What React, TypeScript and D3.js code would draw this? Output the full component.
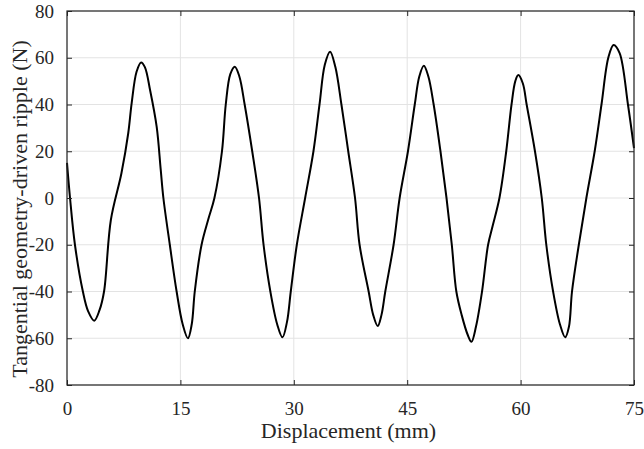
import React, { useEffect, useRef } from 'react';
import * as d3 from 'd3';

// displacement along the stroke (mm)
const displacement = [
  0, 0.4, 1.05, 2.1, 2.8, 3.6, 4.3, 4.9, 5.8, 7.2, 8.1, 8.55, 9.2, 9.8, 10.3, 11.0, 11.86, 12.4, 12.75,
  13.6, 14.5, 15.3, 16.0, 16.5, 16.9, 17.8, 18.7, 19.5, 20.5, 21.0, 21.6, 22.2, 22.8, 23.5, 24.5, 25.4,
  26.0, 26.9, 27.8, 28.5, 29.1, 29.6, 30.4, 31.5, 32.6, 33.4, 34.1, 34.8, 35.5, 36.3, 37.2, 38.1,
  38.7, 39.9, 40.5, 41.1, 41.6, 42.1, 43.2, 44.0, 45.1, 46.0, 46.6, 47.2, 47.8, 48.5, 49.4, 50.2,
  50.9, 51.5, 52.2, 53.0, 53.5, 54.1, 54.9, 55.7, 56.3, 57.2, 58.1, 58.8, 59.3, 59.7, 60.3, 60.8,
  61.9, 62.8, 63.4, 64.3, 65.2, 65.9, 66.4, 66.8, 67.7, 68.7, 69.8, 70.7, 71.6, 72.3, 73.1, 74.2, 75,
];

// tangential geometry-driven ripple (N)
const ripple = [
  15, 0, -20, -40, -48.5, -52.5, -48, -40, -9.4, 10.6, 27.7, 40.5, 54, 58, 56, 46, 30.5, 12, 0,
  -20, -40, -54, -60, -54, -40, -20, -9, 0, 20, 40, 53, 56.2, 52, 40, 20, 0,
  -20, -40, -54, -59.6, -53, -40, -20, 0, 20, 40, 57, 62.6, 56, 40, 20, 0,
  -20, -40, -50, -54.8, -50, -40, -20, 0, 20, 40, 52, 56.6, 52, 40, 20, 0,
  -20, -40, -50, -58.5, -61.5, -55, -40, -20, -12, 0, 20, 40, 50, 52.6, 49, 40,
  20, 0, -20, -40, -54, -59.6, -55, -40, -20, 0, 20, 40, 60, 65.5, 62, 40, 21.3,
];

const xTicks = [0, 15, 30, 45, 60, 75];
const yTicks = [-80, -60, -40, -20, 0, 20, 40, 60, 80];

const App = () => {
  const ref = useRef<SVGSVGElement>(null);

  useEffect(() => {
    document.body.style.margin = '0';
    const margin = { top: 11, right: 10, bottom: 64, left: 67 };
    const width = 644 - margin.left - margin.right;
    const height = 449 - margin.top - margin.bottom;
    const font = "'Liberation Serif', 'Times New Roman', 'DejaVu Serif', serif";
    const axisColor = '#262626';

    const root = d3.select(ref.current);
    root.selectAll('*').remove();
    const svg = root.append('g').attr('transform', `translate(${margin.left},${margin.top})`);

    const x = d3.scaleLinear().domain([0, 75]).range([0, width]);
    const y = d3.scaleLinear().domain([-80, 80]).range([height, 0]);

    // grid
    svg.append('g')
      .selectAll('line')
      .data(xTicks)
      .enter()
      .append('line')
      .attr('x1', (d) => x(d)).attr('x2', (d) => x(d))
      .attr('y1', 0).attr('y2', height)
      .attr('stroke', '#e3e3e3').attr('stroke-width', 1);
    svg.append('g')
      .selectAll('line')
      .data(yTicks)
      .enter()
      .append('line')
      .attr('x1', 0).attr('x2', width)
      .attr('y1', (d) => y(d)).attr('y2', (d) => y(d))
      .attr('stroke', '#e3e3e3').attr('stroke-width', 1);

    // curve
    const pts = displacement.map((d, i) => [d, ripple[i]] as [number, number]);
    const line = d3.line<[number, number]>()
      .x((d) => x(d[0]))
      .y((d) => y(d[1]))
      .curve(d3.curveCatmullRom.alpha(0.5));
    svg.append('path')
      .datum(pts)
      .attr('d', line)
      .attr('fill', 'none')
      .attr('stroke', '#000')
      .attr('stroke-width', 2)
      .attr('stroke-linejoin', 'round');

    // axes, inward ticks on all four sides
    const tickLen = 5;
    const styleAxis = (g: any) => {
      g.attr('font-family', null).attr('font-size', null);
      g.select('.domain').remove();
      g.selectAll('line').attr('stroke', axisColor);
      g.selectAll('text')
        .attr('fill', axisColor)
        .style('font-family', font)
        .style('font-size', '19px');
    };
    const fmt = (d: any) => String(d);
    svg.append('g')
      .attr('transform', `translate(0,${height})`)
      .call(d3.axisBottom(x).tickValues(xTicks).tickSize(-tickLen).tickPadding(17).tickFormat(fmt))
      .call(styleAxis);
    svg.append('g')
      .call(d3.axisTop(x).tickValues(xTicks).tickSize(-tickLen).tickFormat(() => ''))
      .call(styleAxis);
    svg.append('g')
      .call(d3.axisLeft(y).tickValues(yTicks).tickSize(-tickLen).tickPadding(13).tickFormat(fmt))
      .call(styleAxis);
    svg.append('g')
      .attr('transform', `translate(${width},0)`)
      .call(d3.axisRight(y).tickValues(yTicks).tickSize(-tickLen).tickFormat(() => ''))
      .call(styleAxis);

    svg.append('rect')
      .attr('x', 0).attr('y', 0)
      .attr('width', width).attr('height', height)
      .attr('fill', 'none')
      .attr('stroke', axisColor)
      .attr('stroke-width', 1.2);

    // axis titles
    svg.append('text')
      .attr('x', width / 2 - 2)
      .attr('y', height + 53)
      .attr('text-anchor', 'middle')
      .style('font-family', font)
      .style('font-size', '22px')
      .attr('fill', axisColor)
      .text('Displacement (mm)');
    svg.append('text')
      .attr('transform', `translate(${-40},${height / 2 + 11}) rotate(-90)`)
      .attr('text-anchor', 'middle')
      .style('font-family', font)
      .style('font-size', '22px')
      .attr('fill', axisColor)
      .text('Tangential geometry-driven ripple (N)');
  }, []);

  return <svg ref={ref} width={644} height={449} style={{ display: 'block', background: '#fff' }} />;
};

export default App;
